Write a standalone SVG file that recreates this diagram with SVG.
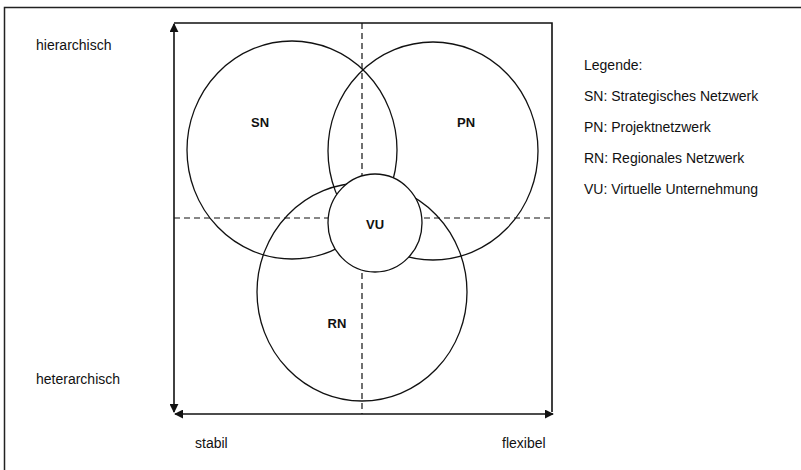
<svg xmlns="http://www.w3.org/2000/svg" width="801" height="470" viewBox="0 0 801 470">
<style>
  .t{font-family:"Liberation Sans",Arial,sans-serif;font-size:14px;fill:#111}
  .b{font-family:"Liberation Sans",Arial,sans-serif;font-size:13px;font-weight:bold;fill:#111;text-anchor:middle}
  .c{fill:none;stroke:#111;stroke-width:1.3}
  .ax{fill:none;stroke:#111;stroke-width:1.6}
  .d{fill:none;stroke:#111;stroke-width:1.2;stroke-dasharray:6 4}
</style>
<defs>
  <marker id="ah" viewBox="0 0 10 10" refX="9" refY="5" markerWidth="9" markerHeight="9" markerUnits="userSpaceOnUse" orient="auto-start-reverse">
    <path d="M0,0 L10,5 L0,10 z" fill="#111"/>
  </marker>
</defs>
<rect width="801" height="470" fill="#fff"/>
<g id="frame">
  <path d="M4.5,470 V7.5 H801" fill="none" stroke="#222" stroke-width="1.5"/>
</g>
<g id="connectors">
  <line class="ax" x1="174" y1="412" x2="174" y2="24" marker-end="url(#ah)" marker-start="url(#ah)"/>
  <line class="ax" x1="175" y1="414" x2="553" y2="414" marker-end="url(#ah)" marker-start="url(#ah)"/>
  <path class="ax" d="M174,23 H552 V412"/>
  <line class="d" x1="362" y1="23" x2="362" y2="414"/>
  <line class="d" x1="174" y1="218" x2="552" y2="218"/>
</g>
<g id="SN">
  <ellipse class="c" cx="292" cy="150" rx="105" ry="109"/>
  <text class="b" x="260" y="127">SN</text>
</g>
<g id="PN">
  <ellipse class="c" cx="433" cy="151" rx="105" ry="109"/>
  <text class="b" x="466" y="127">PN</text>
</g>
<g id="RN">
  <ellipse class="c" cx="362" cy="292" rx="105" ry="109"/>
  <text class="b" x="337" y="328">RN</text>
</g>
<g id="VU">
  <ellipse cx="375" cy="223" rx="47" ry="49" fill="#fff" stroke="#111" stroke-width="1.3"/>
  <text class="b" x="375" y="229">VU</text>
</g>
<g id="axis-labels">
  <text class="t" x="36" y="50">hierarchisch</text>
  <text class="t" x="36" y="384">heterarchisch</text>
  <text class="t" x="195" y="448">stabil</text>
  <text class="t" x="502" y="448">flexibel</text>
</g>
<g id="legend">
  <text class="t" x="584" y="70">Legende:</text>
  <text class="t" x="584" y="101">SN: Strategisches Netzwerk</text>
  <text class="t" x="584" y="132">PN: Projektnetzwerk</text>
  <text class="t" x="584" y="163">RN: Regionales Netzwerk</text>
  <text class="t" x="584" y="194">VU: Virtuelle Unternehmung</text>
</g>
</svg>
